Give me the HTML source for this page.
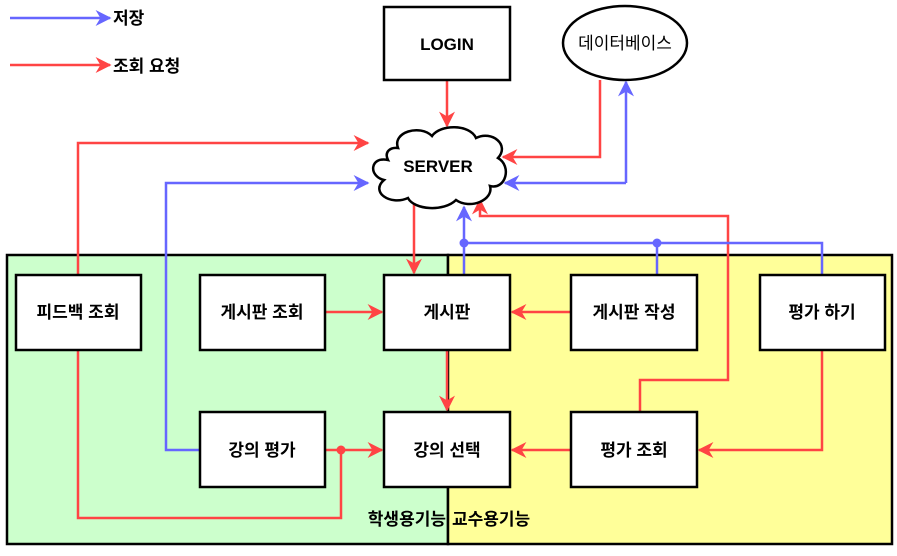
<!DOCTYPE html>
<html><head><meta charset="utf-8"><style>
body{margin:0;background:#fff}
svg text{font-family:"Liberation Sans","Noto Sans CJK KR",sans-serif;font-size:17px;font-weight:bold;fill:#000}
</style></head><body>
<svg width="897" height="551" viewBox="0 0 897 551" xmlns="http://www.w3.org/2000/svg">
<defs>
<marker id="r" viewBox="0 0 10 10" refX="9" refY="5" markerWidth="16" markerHeight="16" orient="auto" markerUnits="userSpaceOnUse"><path d="M0,0 L10,5 L0,10 L3,5z" fill="#FF4444"/></marker>
<marker id="b" viewBox="0 0 10 10" refX="9" refY="5" markerWidth="16" markerHeight="16" orient="auto" markerUnits="userSpaceOnUse"><path d="M0,0 L10,5 L0,10 L3,5z" fill="#6666FF"/></marker>
</defs>
<style>.r{stroke:#FF4444;stroke-width:2.5;fill:none;marker-end:url(#r)} .b{stroke:#6666FF;stroke-width:2.5;fill:none;marker-end:url(#b)} .rn{stroke:#FF4444;stroke-width:2.5;fill:none} .bn{stroke:#6666FF;stroke-width:2.5;fill:none} .bx{fill:#fff;stroke:#000;stroke-width:2.5}</style>
<rect x="7" y="255" width="441" height="289" fill="#CCFFCC" stroke="#000" stroke-width="2.5"/>
<rect x="448" y="255" width="444" height="289" fill="#FFFF99" stroke="#000" stroke-width="2.5"/>
<!-- legend -->
<path class="b" d="M10,18 H110"/>
<text x="113" y="24">저장</text>
<path class="r" d="M10,65 H110"/>
<text x="113" y="72">조회 요청</text>
<!-- connectors -->
<path class="r" d="M447,80 V126"/>
<path class="r" d="M600,80 V157 H503"/>
<path class="b" d="M626,183 V82"/>
<path class="b" d="M626,183 H505"/>
<path class="r" d="M78,275 V143 H368"/>
<path class="b" d="M200,450 H166 V183 H368"/>
<path class="r" d="M414,200 V273"/>
<path class="r" d="M325,312 H382"/>
<path class="r" d="M571,312 H512"/>
<path class="r" d="M447,350 V410"/>
<path class="r" d="M571,450 H512"/>
<path class="r" d="M822,350 V450 H699"/>
<path class="r" d="M640,412 V380 H728 V216 H480 V200"/>
<path class="b" d="M464,275 V207"/>
<path class="bn" d="M464,243 H822 V275"/>
<path class="bn" d="M657,243 V275"/>
<circle cx="464" cy="243" r="4.5" fill="#6666FF"/><circle cx="657" cy="243" r="4.5" fill="#6666FF"/>
<path class="r" d="M325,450 H382"/>
<path class="rn" d="M78,350 V518 H341 V450"/>
<circle cx="341" cy="450" r="4.5" fill="#FF4444"/>
<!-- nodes -->
<rect class="bx" x="384" y="7" width="126" height="73"/>
<text x="447" y="50" text-anchor="middle">LOGIN</text>
<ellipse cx="625" cy="43" rx="62" ry="37" class="bx"/>
<text x="625" y="49" text-anchor="middle" style="font-weight:normal">데이터베이스</text>
<path class="bx" d="M398,148 C392,132 420,124 432,136 C440,124 470,124 476,138 C492,130 510,145 498,158 C512,166 506,190 490,186 C494,200 470,210 456,200 C444,212 414,210 408,198 C390,206 370,192 384,180 C368,176 370,156 388,160 C384,152 390,147 398,148z"/>
<text x="438" y="172" text-anchor="middle">SERVER</text>
<rect class="bx" x="16" y="275" width="125" height="75"/><text x="78" y="318" text-anchor="middle">피드백 조회</text>
<rect class="bx" x="200" y="275" width="125" height="75"/><text x="262" y="318" text-anchor="middle">게시판 조회</text>
<rect class="bx" x="384" y="275" width="126" height="75"/><text x="447" y="318" text-anchor="middle">게시판</text>
<rect class="bx" x="571" y="275" width="126" height="75"/><text x="634" y="318" text-anchor="middle">게시판 작성</text>
<rect class="bx" x="760" y="275" width="125" height="75"/><text x="822" y="318" text-anchor="middle">평가 하기</text>
<rect class="bx" x="200" y="412" width="125" height="75"/><text x="262" y="456" text-anchor="middle">강의 평가</text>
<rect class="bx" x="384" y="412" width="126" height="75"/><text x="447" y="456" text-anchor="middle">강의 선택</text>
<rect class="bx" x="571" y="412" width="126" height="75"/><text x="634" y="456" text-anchor="middle">평가 조회</text>
<text x="446" y="525" text-anchor="end">학생용기능</text>
<text x="452" y="525">교수용기능</text>
</svg>
</body></html>
